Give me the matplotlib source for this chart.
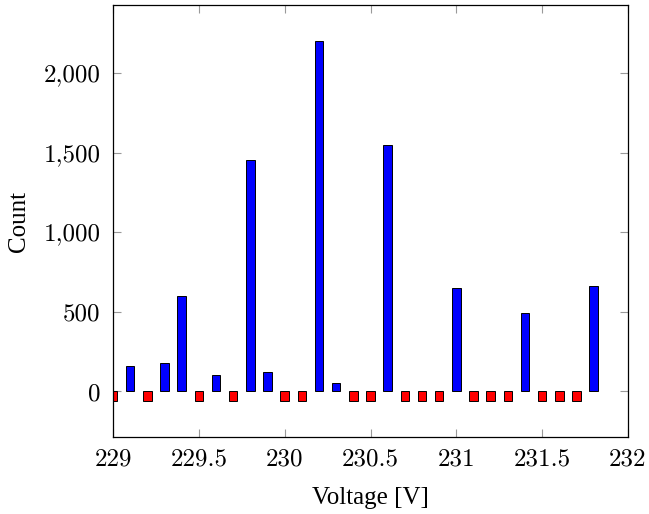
import matplotlib

matplotlib.use("Agg")
import matplotlib.pyplot as plt
from matplotlib.ticker import FuncFormatter, MultipleLocator

# Blue bars: voltage bins with counts
blue_voltage = [229.1, 229.3, 229.4, 229.6, 229.8, 229.9, 230.2, 230.3, 230.6, 231.0, 231.4, 231.8]
blue_count = [160, 180, 600, 105, 1450, 125, 2200, 50, 1550, 650, 490, 660]

# Red bars: empty bins drawn as small negative markers
red_voltage = [229.0, 229.2, 229.5, 229.7, 230.0, 230.1, 230.4, 230.5, 230.7,
               230.8, 230.9, 231.1, 231.2, 231.3, 231.5, 231.6, 231.7]
red_count = [-60] * len(red_voltage)

plt.rcParams["font.family"] = ["cmr10", "DejaVu Serif"]
plt.rcParams["axes.formatter.use_mathtext"] = True

fig = plt.figure(figsize=(6.49, 5.14), dpi=100)
ax = fig.add_axes([113 / 649, 1 - 437 / 514, (628 - 113) / 649, (437 - 5) / 514])

bar_width = 0.05
ax.bar(blue_voltage, blue_count, width=bar_width, color="#0000ff",
       edgecolor="black", linewidth=0.7, zorder=3)
ax.bar(red_voltage, red_count, width=bar_width, color="#ff0000",
       edgecolor="black", linewidth=0.7, zorder=3)

ax.set_xlim(229, 232)
ax.set_ylim(-286, 2426)
ax.xaxis.set_major_locator(MultipleLocator(0.5))
ax.yaxis.set_major_locator(MultipleLocator(500))
ax.xaxis.set_major_formatter(FuncFormatter(lambda v, _: f"{v:g}"))
ax.yaxis.set_major_formatter(FuncFormatter(lambda v, _: f"{v:,.0f}"))

ax.tick_params(direction="in", length=6, width=0.8, color="0.6",
               top=True, right=True, labelsize=18)
ax.tick_params(axis="x", pad=8)
ax.tick_params(axis="y", pad=9)
for spine in ax.spines.values():
    spine.set_linewidth(0.9)
    spine.set_zorder(4)

label_font = ["Liberation Serif", "DejaVu Serif"]
ax.set_xlabel("Voltage [V]", fontsize=18, family=label_font, labelpad=12)
ax.set_ylabel("Count", fontsize=18, family=label_font, labelpad=10)

fig.savefig("out.png", dpi=100)
